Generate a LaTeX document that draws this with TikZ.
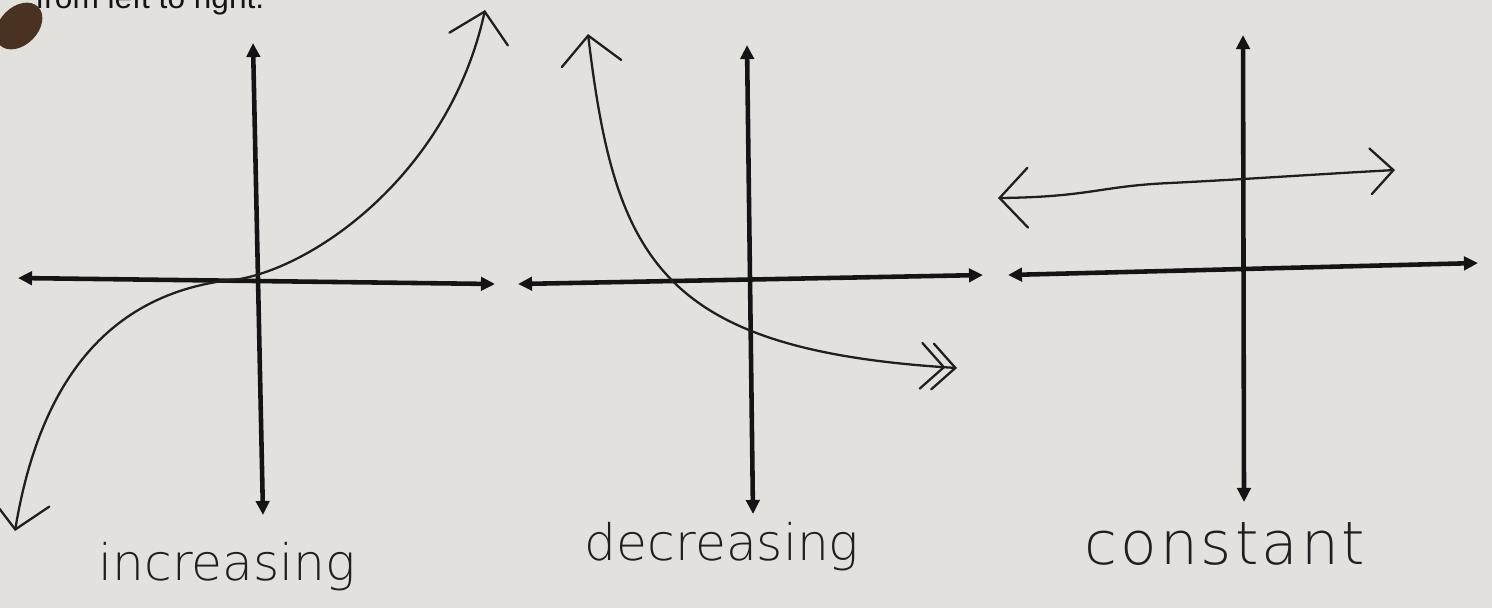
\documentclass[tikz,border=0pt]{standalone}
\usepackage{fontspec}
\setmainfont{Liberation Sans}
\newfontfamily\handfont{DejaVuSans-ExtraLight.ttf}
\usetikzlibrary{arrows.meta}
\definecolor{paper}{HTML}{E2E1DE}
\definecolor{ink}{HTML}{141414}
\definecolor{pencil}{HTML}{1F1F1F}
\definecolor{stain}{HTML}{4A3222}
\tikzset{
  axis/.style={draw=ink, line width=1.3pt,
    {Triangle[length=4pt, width=3.8pt]}-{Triangle[length=4pt, width=3.8pt]}},
  curve/.style={draw=pencil, line width=0.65pt, line cap=round, line join=round},
  chev/.tip={Straight Barb[length=8pt, width=17pt, line cap=round]},
  chevs/.tip={Straight Barb[length=6.5pt, width=13pt, line cap=round]},
  %
  hand/.style={font=\handfont\fontsize{14.3}{16}\selectfont, text=pencil,
               inner sep=0pt, anchor=base},
  printed/.style={font=\fontsize{9}{11}\selectfont, text=ink, inner sep=0pt},
}
\begin{document}
\begin{tikzpicture}[x=0.01cm, y=-0.01cm]

  \clip (0,0) rectangle (1492,608);
  \fill[paper] (0,0) rectangle (1492,608);

  \node[printed, anchor=base east] (hdr) at (265,8) {from left to right.};
  \fill[stain, rotate around={45:(19,26)}] (19,26) ellipse [x radius=0.27cm, y radius=0.19cm];

  % increasing
  \draw[axis] (18,278) -- (495,284);
  \draw[axis] (253,43) -- (263,515);
  \draw[curve, chev-chev] (15,531) .. controls (40,380) and (110,290) .. (240,279)
    .. controls (320,264) and (450,170) .. (485,10);
  \node[hand] (inclbl) at (227,580) {increasing};

  % decreasing
  \draw[axis] (518,284) -- (983,275);
  \draw[axis] (747,45) -- (753,514);
  \draw[curve, {chev}-{chevs[sep=-4pt]chevs}] (588,34)
    .. controls (615,260) and (660,350) .. (957,368);
  \node[hand] (declbl) at (722,560) {decreasing};

  % constant
  \draw[axis] (1008,275) -- (1478,263);
  \draw[axis] (1243,35) -- (1244,502);
  \draw[curve, {chev}-{chevs}] (998,198) .. controls (1090,197) and (1100,186) .. (1170,183)
    .. controls (1250,179) and (1320,174) .. (1395,170);
  \node[hand] (conlbl) at (1225,564)
    {\fontsize{17}{19}\selectfont\addfontfeature{LetterSpace=5}constant};

\end{tikzpicture}
\end{document}
